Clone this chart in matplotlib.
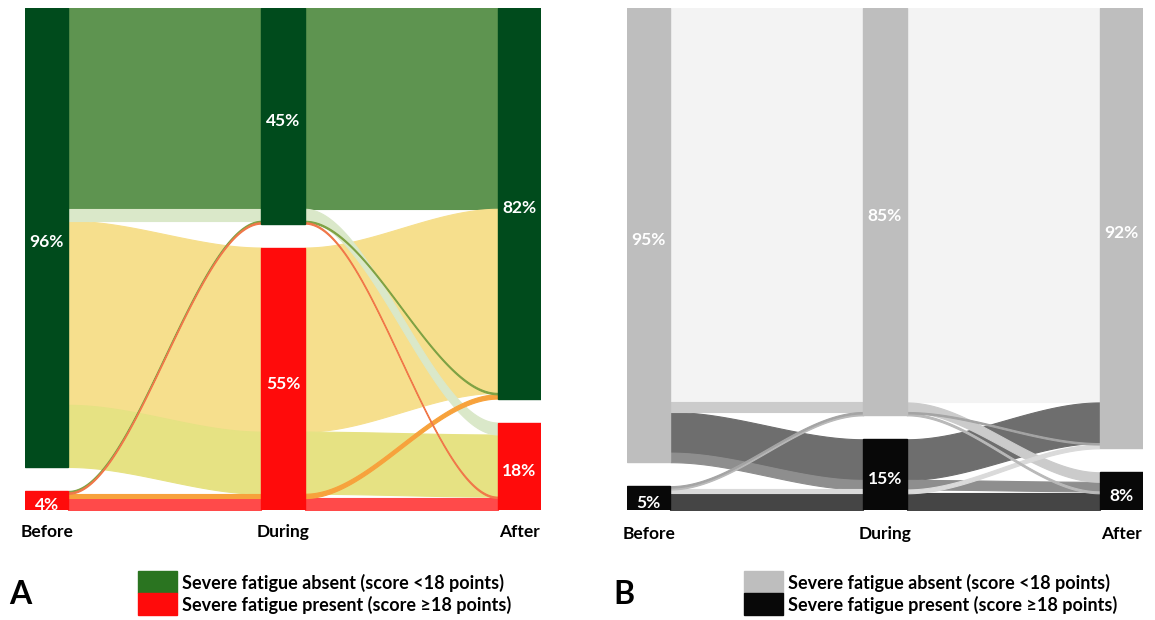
import numpy as np
import matplotlib.pyplot as plt
from matplotlib.patches import Rectangle

plt.rcParams['font.family'] = ['Lato', 'DejaVu Sans']

# Time points and states
stages = ['Before', 'During', 'After']
states = ['A', 'P']  # A = severe fatigue absent, P = present

# Paths (state at Before, During, After) and share of patients in %
paths = ['AAA', 'AAP', 'APA', 'APP', 'PAA', 'PAP', 'PPA', 'PPP']
share_A = [42.0, 2.5, 38.5, 13.0, 0.3, 0.3, 0.9, 2.5]
share_B = [82.5, 2.0, 8.5, 2.0, 0.3, 0.4, 0.8, 3.5]

# Colours
flow_col_A = ['#5E9450', '#DAE8C9', '#F6DF8D', '#E6E283',
              '#7FA244', '#F0784A', '#F7A23C', '#FF4A4A']
flow_col_B = ['#F3F3F3', '#CBCBCB', '#6E6E6E', '#8E8E8E',
              '#A4A4A4', '#B9B9B9', '#DADADA', '#454545']
node_col_A = {'A': '#004B1C', 'P': '#FF0B0B'}
node_col_B = {'A': '#BEBEBE', 'P': '#080808'}
legend_col_A = ['#2A7420', '#FF0B0B']
legend_col_B = ['#BEBEBE', '#080808']
legend_text = ['Severe fatigue absent (score <18 points)',
               'Severe fatigue present (score \u226518 points)']

GAP = 5.0
W = 0.184


def node_ranges(share):
    """Top/bottom of each node at each stage (y grows downward)."""
    out = []
    for i in range(3):
        a = sum(v for p, v in zip(paths, share) if p[i] == 'A')
        out.append({'A': (0.0, a), 'P': (a + GAP, 100 + GAP)})
    return out


def lode_positions(share):
    """Stack paths inside each node in lexicographic path order."""
    nodes = node_ranges(share)
    pos = {p: [] for p in paths}
    for i in range(3):
        for s in states:
            y = nodes[i][s][0]
            for p, v in sorted(zip(paths, share)):
                if p[i] == s:
                    pos[p].append((y, y + v))
                    y += v
    return nodes, pos


def smooth(t):
    return t * t * (3 - 2 * t)


def draw_panel(ax, share, flow_col, node_col, tick_pad):
    nodes, pos = lode_positions(share)
    t = np.linspace(0, 1, 100)
    order = np.argsort(share)[::-1]
    for k in order:
        p = paths[k]
        for i in range(2):
            x0, x1 = i + W / 2, i + 1 - W / 2
            xs = x0 + (x1 - x0) * t
            (a0, b0), (a1, b1) = pos[p][i], pos[p][i + 1]
            top = a0 + (a1 - a0) * smooth(t)
            bot = b0 + (b1 - b0) * smooth(t)
            ax.fill_between(xs, top, bot, color=flow_col[k], lw=0.8,
                            edgecolor=flow_col[k], zorder=2)
    for i in range(3):
        for s in states:
            y0, y1 = nodes[i][s]
            ax.add_patch(Rectangle((i - W / 2, y0), W, y1 - y0,
                                   color=node_col[s], zorder=3))
            ax.text(i, (y0 + y1) / 2 + 1, f'{y1 - y0:.0f}%',
                    ha='center', va='center', color='white',
                    fontsize=12.5, fontweight='bold', zorder=4)
    ax.set_xlim(-W / 2, 2 + W / 2)
    ax.set_ylim(100 + GAP, 0)
    ax.set_xticks(range(3), stages, fontsize=12.5, fontweight='bold')
    ax.tick_params(axis='x', length=0, pad=tick_pad)
    ax.set_yticks([])
    for sp in ax.spines.values():
        sp.set_visible(False)


fig = plt.figure(figsize=(11.55, 6.2), dpi=100)
axA = fig.add_axes([25 / 1155, 0.1774, 516 / 1155, 0.8097])
axB = fig.add_axes([627 / 1155, 0.1774, 516 / 1155, 0.8097])
draw_panel(axA, share_A, flow_col_A, node_col_A, 10)
draw_panel(axB, share_B, flow_col_B, node_col_B, 11.5)

# panel letters and legends
for letter, lx, px, cols in [('A', 9, 138, legend_col_A), ('B', 613, 744, legend_col_B)]:
    fig.text(lx / 1155, 1 - 595 / 620, letter, fontsize=23, fontweight='bold',
             va='center', ha='left')
    for j, (c, lab) in enumerate(zip(cols, legend_text)):
        y = 571 + j * 22
        fig.patches.append(Rectangle((px / 1155, 1 - (y + 22) / 620), 39 / 1155, 22 / 620,
                                     transform=fig.transFigure, color=c))
        fig.text((px + 44) / 1155, 1 - (y + 11.5) / 620, lab, fontsize=13,
                 fontweight='bold', va='center', ha='left')

fig.savefig('out.png', dpi=100)
